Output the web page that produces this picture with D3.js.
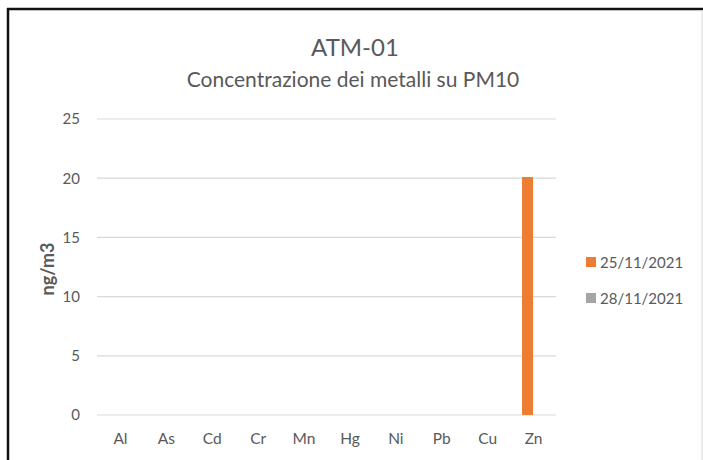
<!DOCTYPE html>
<html>
<head>
<meta charset="utf-8">
<script src="https://d3js.org/d3.v7.min.js"></script>
<style>
  body { margin: 0; background: #fff; }
  svg text { font-family: Lato, "Open Sans", sans-serif; fill: #595959; }
</style>
</head>
<body>
<div id="chart"></div>
<script>
'use strict';

// chart data
var metals = ['Al', 'As', 'Cd', 'Cr', 'Mn', 'Hg', 'Ni', 'Pb', 'Cu', 'Zn'];
var seriesNames = ['25/11/2021', '28/11/2021'];
var seriesColors = ['#ED7D31', '#A5A5A5'];
var values1 = [0, 0, 0, 0, 0, 0, 0, 0, 0, 20.1];
var values2 = [0, 0, 0, 0, 0, 0, 0, 0, 0, 0];
var yTicks = [0, 5, 10, 15, 20, 25];

var W = 703, H = 460;
var plot = { left: 97, right: 556, top: 119, bottom: 415 };

var svg = d3.select('#chart').append('svg')
    .attr('width', W)
    .attr('height', H);

//frame: black top/left edge, light right edge
svg.append('rect').attr('x', 0).attr('y', 0).attr('width', W).attr('height', H).style('fill', '#fff');
svg.append('line').attr('x1', 7).attr('x2', W).attr('y1', 9).attr('y2', 9)
    .style('stroke', '#111').style('stroke-width', 2.5);
svg.append('line').attr('x1', 8).attr('x2', 8).attr('y1', 8).attr('y2', H)
    .style('stroke', '#111').style('stroke-width', 2.5);
svg.append('line').attr('x1', 702).attr('x2', 702).attr('y1', 10).attr('y2', H)
    .style('stroke', '#d9d9d9').style('stroke-width', 1);

var x = d3.scaleBand().domain(metals).range([plot.left, plot.right]).paddingInner(0.52).paddingOuter(0.26);
var xs = d3.scaleBand().domain(seriesNames).range([0, x.bandwidth()]);
var y = d3.scaleLinear().domain([0, 25]).range([plot.bottom, plot.top]);

//gridlines
svg.selectAll('.grid').data(yTicks).enter().append('line')
    .attr('class', 'grid')
    .attr('x1', plot.left).attr('x2', plot.right)
    .attr('y1', function (d) { return y(d); })
    .attr('y2', function (d) { return y(d); })
    .style('stroke', '#d9d9d9').style('stroke-width', 1.2);

//y axis labels
var yAxis = svg.append('g').attr('transform', 'translate(' + (plot.left - 6) + ',0)')
    .call(d3.axisLeft(y).tickValues(yTicks).tickSize(0).tickPadding(11));
yAxis.select('.domain').remove();
yAxis.selectAll('text').style('font-size', '15px').style('fill', '#595959')
    .style('font-family', 'Lato, "Open Sans", sans-serif');

//x axis labels
var xAxis = svg.append('g').attr('transform', 'translate(0,' + plot.bottom + ')')
    .call(d3.axisBottom(d3.scalePoint().domain(metals).range([plot.left, plot.right]).padding(0.5))
        .tickSize(0).tickPadding(18));
xAxis.select('.domain').remove();
xAxis.selectAll('text').style('font-size', '15.5px').style('fill', '#595959')
    .style('font-family', 'Lato, "Open Sans", sans-serif');

//bars
var series = [values1, values2];
series.forEach(function (vals, si) {
    svg.selectAll('.bar-' + si).data(vals).enter().append('rect')
        .attr('class', 'bar-' + si)
        .attr('x', function (d, i) { return x(metals[i]) + xs(seriesNames[si]); })
        .attr('width', xs.bandwidth())
        .attr('y', function (d) { return y(d); })
        .attr('height', function (d) { return y(0) - y(d); })
        .style('fill', seriesColors[si]);
});

//titles
svg.append('text').attr('x', 355).attr('y', 56).attr('text-anchor', 'middle')
    .style('font-size', '24px').text('ATM-01');
svg.append('text').attr('x', 353).attr('y', 87).attr('text-anchor', 'middle')
    .style('font-size', '21px').text('Concentrazione dei metalli su PM10');

//y axis title
svg.append('text')
    .attr('transform', 'translate(54,' + ((plot.top + plot.bottom) / 2 + 2) + ') rotate(-90)')
    .attr('text-anchor', 'middle')
    .style('font-size', '18px').style('font-weight', 'bold')
    .text('ng/m3');

//legend
var legend = svg.selectAll('.legend').data(seriesNames).enter().append('g')
    .attr('class', 'legend')
    .attr('transform', function (d, i) { return 'translate(586,' + (262 + i * 36) + ')'; });
legend.append('rect').attr('x', 0).attr('y', -5).attr('width', 10).attr('height', 10)
    .style('fill', function (d, i) { return seriesColors[i]; });
legend.append('text').attr('x', 14).attr('y', 5.5)
    .style('font-size', '15px').text(function (d) { return d; });
</script>
</body>
</html>
